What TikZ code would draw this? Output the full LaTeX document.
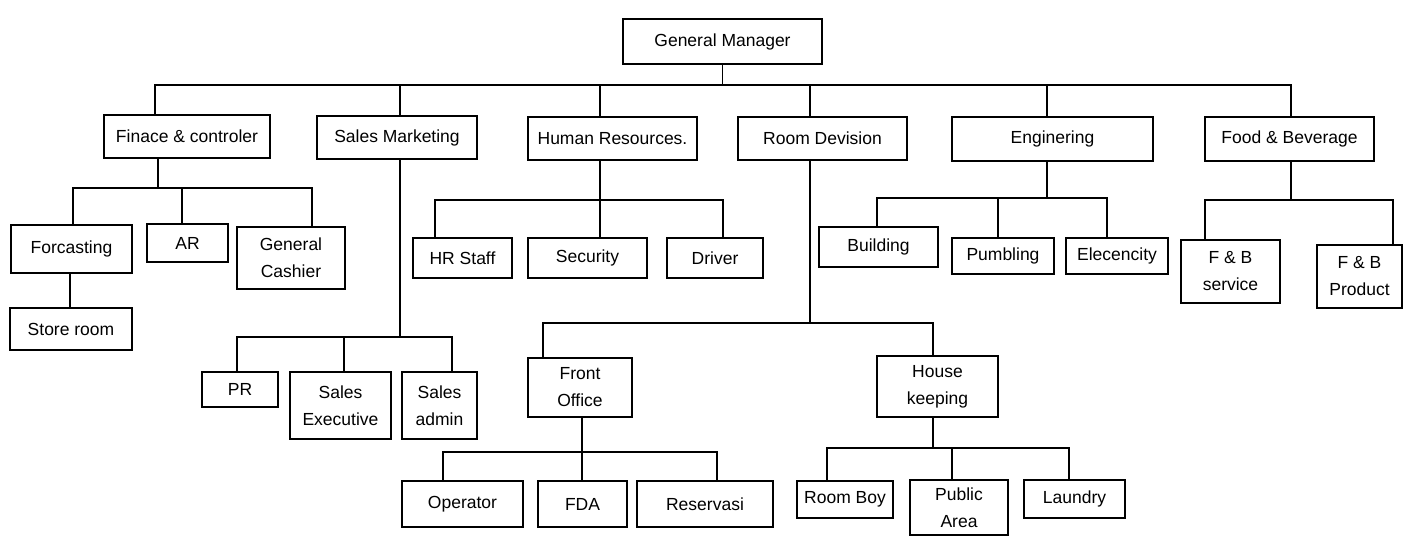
\documentclass[tikz,border=0pt]{standalone}
\usepackage{fontspec}
\setmainfont{Liberation Sans}
\begin{document}
\begin{tikzpicture}[x=1pt,y=-1pt,
  box/.style={draw, line width=1.6pt, align=center, inner sep=0pt,
    font=\fontsize{17.5}{27}\selectfont},
  link/.style={line width=1.6pt}]
\useasboundingbox (0,0) rectangle (1404,536);
% level 0
\node[box, minimum width=199, minimum height=45] (gm) at (722.5,41.5) {General Manager};
% level 1
\node[box, minimum width=166, minimum height=43] (fin) at (187,136.5) {Finace \& controler};
\node[box, minimum width=160, minimum height=43] (sales) at (397,137.5) {Sales Marketing};
\node[box, minimum width=169, minimum height=43] (hr) at (612.5,138.5) {Human Resources.};
\node[box, minimum width=169, minimum height=43] (room) at (822.5,138.5) {Room Devision};
\node[box, minimum width=201, minimum height=44] (eng) at (1052.5,139) {Enginering};
\node[box, minimum width=169, minimum height=44] (fb) at (1289.5,139) {Food \& Beverage};
% finance
\node[box, minimum width=121, minimum height=48] (fore) at (71.5,249) {Forcasting};
\node[box, minimum width=122, minimum height=42] (store) at (71,329) {Store room};
\node[box, minimum width=81, minimum height=38] (ar) at (187.5,243) {AR};
\node[box, minimum width=108, minimum height=62] (cash) at (291,258) {General\\Cashier};
% sales
\node[box, minimum width=76, minimum height=35] (pr) at (240,389.5) {PR};
\node[box, minimum width=101, minimum height=67] (sexec) at (340.5,405.5) {Sales\\Executive};
\node[box, minimum width=75, minimum height=67] (sadmin) at (439.5,405.5) {Sales\\admin};
% hr
\node[box, minimum width=99, minimum height=40] (hrs) at (462.5,258) {HR Staff};
\node[box, minimum width=119, minimum height=40] (sec) at (587.5,258) {Security};
\node[box, minimum width=96, minimum height=40] (drv) at (715,258) {Driver};
% room division
\node[box, minimum width=104, minimum height=59] (fo) at (580,387.5) {Front\\Office};
\node[box, minimum width=121, minimum height=61] (hk) at (937.5,386.5) {House\\keeping};
\node[box, minimum width=121, minimum height=46] (op) at (462.5,504) {Operator};
\node[box, minimum width=89, minimum height=46] (fda) at (582.5,504) {FDA};
\node[box, minimum width=136, minimum height=46] (res) at (705,504) {Reservasi};
\node[box, minimum width=96, minimum height=37] (rb) at (845,499.5) {Room Boy};
\node[box, minimum width=98, minimum height=55] (pa) at (959,507.5) {Public\\Area};
\node[box, minimum width=101, minimum height=38] (lau) at (1074.5,499) {Laundry};
% engineering
\node[box, minimum width=119, minimum height=40] (bld) at (878.5,247) {Building};
\node[box, minimum width=102, minimum height=36] (pum) at (1003,256) {Pumbling};
\node[box, minimum width=102, minimum height=36] (ele) at (1117,256) {Elecencity};
% food & beverage
\node[box, minimum width=99, minimum height=63] (fbs) at (1230.5,271.5) {F \& B\\service};
\node[box, minimum width=85, minimum height=63] (fbp) at (1359.5,276.5) {F \& B\\Product};

% connectors level 0 -> 1
\draw[link] (gm.south) -- (gm.south |- 0,85);
\draw[link] (fin.north -| 155,0) -- (155,85) -- (1291,85) -- (fb.north -| 1291,0);
\draw[link] (sales.north -| 400,0) -- (400,85);
\draw[link] (hr.north -| 600,0) -- (600,85);
\draw[link] (room.north -| 810,0) -- (810,85);
\draw[link] (eng.north -| 1047,0) -- (1047,85);
% finance
\draw[link] (fin.south -| 158,0) -- (158,188);
\draw[link] (fore.north -| 73,0) -- (73,188) -- (312,188) -- (cash.north -| 312,0);
\draw[link] (ar.north -| 182,0) -- (182,188);
\draw[link] (fore.south -| 70,0) -- (store.north -| 70,0);
% sales
\draw[link] (sales.south -| 400,0) -- (400,337);
\draw[link] (pr.north -| 237,0) -- (237,337) -- (452,337) -- (sadmin.north -| 452,0);
\draw[link] (sexec.north -| 344,0) -- (344,337);
% hr
\draw[link] (hr.south -| 600,0) -- (sec.north -| 600,0);
\draw[link] (hrs.north -| 435,0) -- (435,200) -- (723,200) -- (drv.north -| 723,0);
% room division
\draw[link] (room.south -| 810,0) -- (810,323);
\draw[link] (fo.north -| 543,0) -- (543,323) -- (933,323) -- (hk.north -| 933,0);
\draw[link] (fo.south -| 582,0) -- (fda.north -| 582,0);
\draw[link] (op.north -| 443,0) -- (443,452) -- (717,452) -- (res.north -| 717,0);
\draw[link] (hk.south -| 933,0) -- (933,448);
\draw[link] (rb.north -| 827,0) -- (827,448) -- (1069,448) -- (lau.north -| 1069,0);
\draw[link] (pa.north -| 952,0) -- (952,448);
% engineering
\draw[link] (eng.south -| 1047,0) -- (1047,198);
\draw[link] (bld.north -| 877,0) -- (877,198) -- (1107,198) -- (ele.north -| 1107,0);
\draw[link] (pum.north -| 998,0) -- (998,198);
% food & beverage
\draw[link] (fb.south -| 1291,0) -- (1291,200);
\draw[link] (fbs.north -| 1205,0) -- (1205,200) -- (1393,200) -- (fbp.north -| 1393,0);
\end{tikzpicture}
\end{document}
